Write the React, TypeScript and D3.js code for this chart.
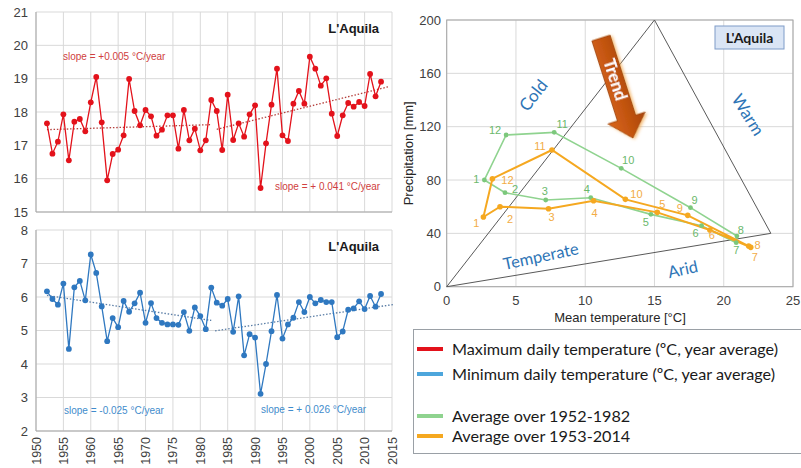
import React from 'react';
import * as d3 from 'd3';

// Yearly averages, L'Aquila, 1952-2013
const years = d3.range(1952, 2014);

const maxTemp = [
  17.66, 16.75, 17.11, 17.93, 16.55, 17.71, 17.79, 17.42, 18.29, 19.05,
  17.69, 15.95, 16.74, 16.87, 17.30, 18.99, 18.03, 17.60, 18.06, 17.87,
  17.29, 17.47, 17.90, 17.90, 16.90, 18.06, 17.15, 17.50, 16.85, 17.15,
  18.36, 18.03, 16.86, 18.52, 17.16, 17.66, 17.26, 17.93, 18.20, 15.72,
  17.06, 18.22, 19.30, 17.30, 17.13, 18.25, 18.63, 18.25, 19.66, 19.30,
  18.79, 19.01, 17.95, 17.28, 17.90, 18.27, 18.16, 18.30, 18.18, 19.14,
  18.47, 18.91,
];

const minTemp = [
  6.17, 5.94, 5.77, 6.40, 4.45, 6.29, 6.48, 5.90, 7.27, 6.72,
  5.72, 4.68, 5.37, 5.10, 5.88, 5.56, 5.81, 6.13, 5.23, 5.82,
  5.37, 5.23, 5.18, 5.18, 5.17, 5.55, 4.99, 5.69, 5.43, 5.04,
  6.28, 5.83, 5.74, 5.94, 4.96, 6.02, 4.26, 4.89, 4.79, 3.11,
  4.00, 4.98, 6.06, 4.76, 5.18, 5.38, 5.85, 5.55, 6.00, 5.81,
  5.91, 5.85, 5.85, 4.80, 4.97, 5.62, 5.66, 5.87, 5.64, 6.03,
  5.71, 6.09,
];

const maxTrends = [
  { from: 1952, to: 1982, start: 17.47, end: 17.62 },
  { from: 1983, to: 2014.4, start: 17.48, end: 18.76 },
];
const minTrends = [
  { from: 1952, to: 1982, start: 6.05, end: 5.3 },
  { from: 1982.7, to: 2015.4, start: 4.99, end: 5.78 },
];

const maxSlopes = ['slope = +0.005 °C/year', 'slope = + 0.041 °C/year'];
const minSlopes = ['slope = -0.025 °C/year', 'slope = + 0.026 °C/year'];

const yearTicks = d3.range(1950, 2016, 5);
const maxTicks = [15, 16, 17, 18, 19, 20, 21];
const minTicks = [2, 3, 4, 5, 6, 7, 8];

// Monthly climate diagram (Jan..Dec)
const months = [1, 2, 3, 4, 5, 6, 7, 8, 9, 10, 11, 12];
const oldTemp = [2.72, 4.21, 7.15, 10.4, 14.74, 18.4, 20.9, 20.95, 17.6, 12.6, 7.76, 4.29];
const oldPrec = [80, 70.5, 65, 66.75, 54.25, 45.75, 33, 38, 59.25, 88.75, 115.75, 113.75];
const newTemp = [2.65, 3.85, 7.35, 10.6, 15.2, 19.0, 21.95, 21.8, 17.4, 12.9, 7.6, 3.3];
const newPrec = [52.25, 60, 58.5, 64.5, 55.75, 42.5, 29.5, 30.5, 53.5, 65.5, 102.5, 81];

const triangle = [[0, 0], [15, 200], [23.4, 40]];
const tempTicks = [0, 5, 10, 15, 20, 25];
const precTicks = [0, 40, 80, 120, 160, 200];

const legendItems = [
  'Maximum daily temperature (ºC, year average)',
  'Minimum daily temperature (ºC, year average)',
  'Average over 1952-1982',
  'Average over 1953-2014',
];

// label placement for the month numbers (pixels from the point)
const oldLabelOffsets = [[-8, -1], [10, -4], [-1, -9], [-4, -9], [-5, 8], [-6, 7], [0, 7], [4, -6], [4, -8], [7, -8], [8, -8], [-11, -5]];
const newLabelOffsets = [[-7, 6], [10, 12], [3, 8], [1, 12], [5, -8], [2, 5], [4, 10], [9, -1], [-8, -7], [11, -5], [-12, -4], [15, 1]];

const RED = '#e3121b';
const BLUE = '#2f78c0';
const GREEN = '#8fd38f';
const ORANGE = '#f5a820';
const GRID = '#d9d9d9';
const AXIS_FONT = 'Liberation Sans, Arial, sans-serif';
const LEGEND_FONT = 'Lato, Open Sans, sans-serif';

function YearChart({ values, trends, slopes, ticks, top, bottom, color, trendColor, slopeColor, slopePos, showYears }) {
  const x = d3.scaleLinear().domain([1950, 2015]).range([36, 392]);
  const y = d3.scaleLinear().domain([ticks[0], ticks[ticks.length - 1]]).range([bottom, top]);
  const line = d3.line<number>().x((d, i) => x(years[i])).y(d => y(d));

  return (
    <g>
      {ticks.map(t => (
        <g key={t}>
          <line x1={x(1950)} x2={x(2015)} y1={y(t)} y2={y(t)} stroke={GRID} />
          <text x={28} y={y(t) + 4.5} textAnchor="end" fontSize={13} fill="#404040" fontFamily={AXIS_FONT}>{t}</text>
        </g>
      ))}
      {yearTicks.map(t => (
        <line key={t} x1={x(t)} x2={x(t)} y1={y(ticks[0])} y2={y(ticks[ticks.length - 1])} stroke={GRID} />
      ))}
      <line x1={x(1950)} x2={x(1950)} y1={top} y2={bottom} stroke="#a6a6a6" />
      <line x1={x(1950)} x2={x(2015)} y1={bottom} y2={bottom} stroke="#a6a6a6" />
      {showYears && yearTicks.map(t => (
        <text key={t} transform={`translate(${x(t) + 4.5},${bottom + 6}) rotate(-90)`} textAnchor="end"
          fontSize={12.5} fill="#404040" fontFamily={AXIS_FONT}>{t}</text>
      ))}
      {trends.map((tr, i) => (
        <line key={i} x1={x(tr.from)} x2={x(tr.to)} y1={y(tr.start)} y2={y(tr.end)}
          stroke={trendColor} strokeWidth={1.3} strokeDasharray="1.5,1.8" />
      ))}
      <path d={line(values)} fill="none" stroke={color} strokeWidth={1.3} />
      {values.map((v, i) => (
        <circle key={i} cx={x(years[i])} cy={y(v)} r={2.9} fill={color} />
      ))}
      {slopes.map((s, i) => (
        <text key={i} x={slopePos[i][0]} y={slopePos[i][1]} fontSize={10} fill={slopeColor} fontFamily={AXIS_FONT}>{s}</text>
      ))}
      <text x={379} y={top + 21} textAnchor="end" fontSize={13} fontWeight="bold" fill="#1a1a1a" fontFamily={AXIS_FONT}>L'Aquila</text>
    </g>
  );
}

function ClimateChart() {
  const x = d3.scaleLinear().domain([0, 25]).range([446.7, 793]);
  const y = d3.scaleLinear().domain([0, 200]).range([286.7, 20]);
  const loop = d3.line<number>().x(d => x(d[0])).y(d => y(d[1])).curve(d3.curveLinearClosed);
  const oldPts = months.map((m, i) => [oldTemp[i], oldPrec[i]]);
  const newPts = months.map((m, i) => [newTemp[i], newPrec[i]]);
  const tri = d3.line<number[]>().x(d => x(d[0])).y(d => y(d[1]));

  // Trend arrow, drawn pointing down then rotated
  const shaftW = 19, headW = 39, shaftL = 84, headL = 21;
  const arrow = [
    [-shaftW / 2, 0], [shaftW / 2, 0], [shaftW / 2, shaftL], [headW / 2, shaftL],
    [0, shaftL + headL], [-headW / 2, shaftL], [-shaftW / 2, shaftL],
  ];

  return (
    <g>
      <defs>
        <linearGradient id="arrowGrad" x1="0" x2="1" y1="0" y2="0">
          <stop offset="0" stopColor="#d9661a" />
          <stop offset="0.5" stopColor="#c45511" />
          <stop offset="1" stopColor="#a9460c" />
        </linearGradient>
        <filter id="arrowShadow" x="-50%" y="-50%" width="200%" height="200%">
          <feDropShadow dx="1.5" dy="1.5" stdDeviation="1.5" floodColor="#f0a040" floodOpacity="0.7" />
        </filter>
      </defs>
      {tempTicks.map(t => (
        <g key={t}>
          <line x1={x(t)} x2={x(t)} y1={y(0)} y2={y(200)} stroke={GRID} />
          <text x={x(t)} y={305} textAnchor="middle" fontSize={13} fill="#404040" fontFamily={AXIS_FONT}>{t}</text>
        </g>
      ))}
      {precTicks.map(t => (
        <g key={t}>
          <line x1={x(0)} x2={x(25)} y1={y(t)} y2={y(t)} stroke={GRID} />
          <text x={441} y={y(t) + 4.5} textAnchor="end" fontSize={13} fill="#404040" fontFamily={AXIS_FONT}>{t}</text>
        </g>
      ))}
      <rect x={x(0)} y={y(200)} width={x(25) - x(0)} height={y(0) - y(200)} fill="none" stroke="#a6a6a6" />
      <text x={620} y={322} textAnchor="middle" fontSize={13} fill="#262626" fontFamily={AXIS_FONT}>Mean temperature [°C]</text>
      <text transform={`translate(413,${y(100)}) rotate(-90)`} textAnchor="middle" fontSize={13} fill="#262626" fontFamily={AXIS_FONT}>Precipitation [mm]</text>

      <path d={tri([triangle[0], triangle[1], triangle[2], triangle[0]])} fill="none" stroke="#595959" strokeWidth={1} />

      <path d={loop(oldPts)} fill="none" stroke={GREEN} strokeWidth={1.6} />
      <path d={loop(newPts)} fill="none" stroke={ORANGE} strokeWidth={2} />
      {oldPts.map((p, i) => (
        <g key={'o' + i}>
          <circle cx={x(p[0])} cy={y(p[1])} r={2.4} fill="#7cc87c" />
          <text x={x(p[0]) + oldLabelOffsets[i][0]} y={y(p[1]) + oldLabelOffsets[i][1] + 4} textAnchor="middle"
            fontSize={11} fill="#6bb86b" fontFamily={AXIS_FONT}>{months[i]}</text>
        </g>
      ))}
      {newPts.map((p, i) => (
        <g key={'n' + i}>
          <circle cx={x(p[0])} cy={y(p[1])} r={2.8} fill={ORANGE} />
          <text x={x(p[0]) + newLabelOffsets[i][0]} y={y(p[1]) + newLabelOffsets[i][1] + 4} textAnchor="middle"
            fontSize={11} fill="#f2ac45" fontFamily={AXIS_FONT}>{months[i]}</text>
        </g>
      ))}

      <text transform="translate(538,99) rotate(-52)" textAnchor="middle" fontSize={17} fill="#2e75b6" fontFamily={LEGEND_FONT}>Cold</text>
      <text transform="translate(743,118) rotate(58)" textAnchor="middle" fontSize={17} fill="#2e75b6" fontFamily={LEGEND_FONT}>Warm</text>
      <text transform="translate(542,262) rotate(-12)" textAnchor="middle" fontSize={16.5} fill="#2e75b6" fontFamily={LEGEND_FONT}>Temperate</text>
      <text transform="translate(684,275) rotate(-12)" textAnchor="middle" fontSize={16.5} fill="#2e75b6" fontFamily={LEGEND_FONT}>Arid</text>

      <g transform="translate(601,38) rotate(-17.7)" filter="url(#arrowShadow)">
        <polygon points={arrow.map(p => p.join(',')).join(' ')} fill="url(#arrowGrad)" stroke="#9c4009" strokeWidth={0.8} />
        <text transform={`translate(-5.5,${shaftL / 2 + 2}) rotate(90)`} textAnchor="middle" fontSize={17} fontWeight="bold"
          fill="#ffffff" fontFamily={LEGEND_FONT}>Trend</text>
      </g>

      <rect x={715} y={26} width={69} height={23} fill="#dae5f5" stroke="#7f9cc8" strokeWidth={1} />
      <text x={749.5} y={42.5} textAnchor="middle" fontSize={14} fontWeight="bold" fill="#1a1a1a" fontFamily={LEGEND_FONT}>L'Aquila</text>
    </g>
  );
}

function Legend() {
  const colors = [RED, '#4da6dc', GREEN, ORANGE];
  const rows = [349, 374, 416, 436];
  return (
    <g>
      <rect x={413.5} y={329.5} width={388} height={124} fill="#ffffff" stroke="#9aa0a6" strokeWidth={1} />
      {legendItems.map((label, i) => (
        <g key={label}>
          <line x1={417} x2={443} y1={rows[i]} y2={rows[i]} stroke={colors[i]} strokeWidth={4} />
          <text x={452} y={rows[i] + 5.5} fontSize={16.2} fill="#1a1a1a" fontFamily={LEGEND_FONT}>{label}</text>
        </g>
      ))}
    </g>
  );
}

export default function App() {
  return (
    <svg width={801} height={468} style={{ position: 'absolute', left: 0, top: 0, background: '#ffffff' }}>
      <rect width={801} height={468} fill="#ffffff" />
      <YearChart values={maxTemp} trends={maxTrends} slopes={maxSlopes} ticks={maxTicks} top={12} bottom={212}
        color={RED} trendColor="#b5413e" slopeColor="#d04040" slopePos={[[63, 60], [275, 190]]} showYears={false} />
      <YearChart values={minTemp} trends={minTrends} slopes={minSlopes} ticks={minTicks} top={230} bottom={431}
        color={BLUE} trendColor="#5b7ea6" slopeColor="#3f8ccc" slopePos={[[64, 414], [261, 413]]} showYears={true} />
      <ClimateChart />
      <Legend />
    </svg>
  );
}
